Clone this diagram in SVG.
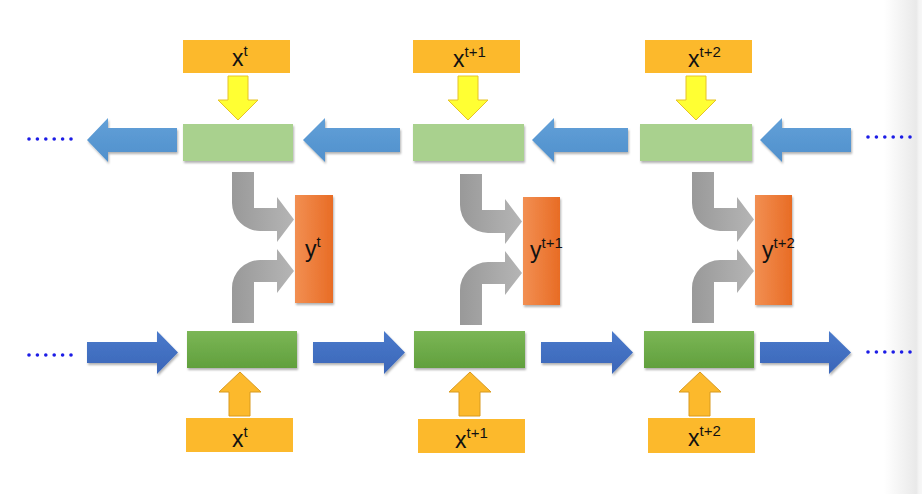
<svg xmlns="http://www.w3.org/2000/svg" width="922" height="494" viewBox="0 0 922 494">
<defs>
<style>
.xbox{fill:#FCB92C;}
.gtop{fill:#A9D18E;filter:url(#sh);}
.gbot{fill:url(#gGreen);filter:url(#sh);}
.ybox{fill:url(#gOrange);filter:url(#sh);}
.bl{fill:url(#gBlueL);filter:url(#sh);}
.br{fill:url(#gBlueR);filter:url(#sh);}
.yel{fill:#FFFF33;stroke:#E6C229;stroke-width:1;}
.org{fill:#FCB92C;stroke:#D99A1E;stroke-width:1;}
.gray{fill:url(#gGray);}
.dot{fill:#1C1CE6;}
.lbl{font-family:"Liberation Sans",Arial,sans-serif;font-size:23px;fill:#111;}
.sup{font-size:15px;}
</style>
<filter id="sh" x="-10%" y="-20%" width="130%" height="150%">
<feDropShadow dx="1" dy="2" stdDeviation="1.3" flood-color="#000" flood-opacity="0.3"/>
</filter>
<linearGradient id="gGreen" x1="0" y1="0" x2="0" y2="1">
<stop offset="0" stop-color="#7BB656"/><stop offset="1" stop-color="#61A03D"/>
</linearGradient>
<linearGradient id="gOrange" x1="0" y1="0" x2="1" y2="0">
<stop offset="0" stop-color="#F28F52"/><stop offset="1" stop-color="#E86C25"/>
</linearGradient>
<linearGradient id="gBlueL" x1="0" y1="0" x2="0" y2="1">
<stop offset="0" stop-color="#62A0D8"/><stop offset="1" stop-color="#5090CC"/>
</linearGradient>
<linearGradient id="gBlueR" x1="0" y1="0" x2="0" y2="1">
<stop offset="0" stop-color="#4A7ACB"/><stop offset="1" stop-color="#3B66B8"/>
</linearGradient>
<linearGradient id="gGray" x1="0" y1="0" x2="1" y2="0">
<stop offset="0" stop-color="#999"/><stop offset="1" stop-color="#B5B5B5"/>
</linearGradient>
<linearGradient id="gEdge" x1="0" y1="0" x2="1" y2="0">
<stop offset="0" stop-color="#FFF"/><stop offset="0.85" stop-color="#E9E9E9"/><stop offset="0.92" stop-color="#F4F4F4"/><stop offset="1" stop-color="#F6F6F6"/>
</linearGradient>
<g id="grayPair">
<path class="gray" d="M232,172 L254,172 L254,208 L277,208 L277,197 L294,219.5 L277,242 L277,231 L260,231 A28 28 0 0 1 232,203 Z"/>
<path class="gray" d="M232,323 L232,288 A28 28 0 0 1 260,260 L277,260 L277,249 L294,271 L277,293 L277,282 L254,282 L254,323 Z"/>
</g>
<g id="dots6">
<circle class="dot" cx="0" cy="0" r="1.8"/><circle class="dot" cx="8.4" cy="0" r="1.8"/><circle class="dot" cx="16.8" cy="0" r="1.8"/><circle class="dot" cx="25.2" cy="0" r="1.8"/><circle class="dot" cx="33.6" cy="0" r="1.8"/><circle class="dot" cx="42" cy="0" r="1.8"/>
</g>
</defs>
<rect width="922" height="494" fill="#FFF"/>
<rect x="884" y="0" width="38" height="494" fill="url(#gEdge)"/>

<g id="connectors">
<use href="#dots6" x="29" y="139"/>
<use href="#dots6" x="868" y="137"/>
<use href="#dots6" x="29" y="355"/>
<use href="#dots6" x="868" y="352"/>
<!-- top backward arrows -->
<path class="bl" d="M87,140 L108,118 L108,128 L177,128 L177,152 L108,152 L108,162 Z"/>
<path class="bl" d="M303,140 L325,118 L325,128 L400,128 L400,152 L325,152 L325,162 Z"/>
<path class="bl" d="M532,140 L554,118 L554,128 L628,128 L628,152 L554,152 L554,162 Z"/>
<path class="bl" d="M760,140 L782,118 L782,128 L851,128 L851,152 L782,152 L782,162 Z"/>
<!-- bottom forward arrows -->
<path class="br" d="M87,342 L157,342 L157,331 L178,352.5 L157,374 L157,363 L87,363 Z"/>
<path class="br" d="M313,342 L384,342 L384,331 L405,352.5 L384,374 L384,363 L313,363 Z"/>
<path class="br" d="M541,342 L612,342 L612,331 L633,352.5 L612,374 L612,363 L541,363 Z"/>
<path class="br" d="M760,342 L829,342 L829,331 L851,352.5 L829,374 L829,363 L760,363 Z"/>
<!-- yellow down arrows -->
<path class="yel" d="M228,76 L248,76 L248,100 L258,100 L238,120 L218,100 L228,100 Z"/>
<path class="yel" d="M458,76 L478,76 L478,100 L488,100 L468,120 L448,100 L458,100 Z"/>
<path class="yel" d="M686,76 L706,76 L706,100 L716,100 L696,120 L676,100 L686,100 Z"/>
<!-- orange up arrows -->
<path class="org" d="M229,416 L229,392 L219,392 L240,372 L261,392 L250,392 L250,416 Z"/>
<path class="org" d="M459,416 L459,392 L449,392 L470,372 L491,392 L480,392 L480,416 Z"/>
<path class="org" d="M689,416 L689,392 L679,392 L700,372 L721,392 L710,392 L710,416 Z"/>
<!-- gray output arrows -->
<use href="#grayPair"/>
<use href="#grayPair" x="228" y="2"/>
<use href="#grayPair" x="460" y="0"/>
</g>

<g id="col1">
<g id="xin-top-1"><rect class="xbox" x="183" y="40" width="107" height="33"/><text class="lbl" x="232" y="66">x<tspan class="sup" dy="-10">t</tspan></text></g>
<g id="hb-1"><rect class="gtop" x="183" y="124" width="110" height="37"/></g>
<g id="hf-1"><rect class="gbot" x="187" y="331" width="110" height="37"/></g>
<g id="xin-bot-1"><rect class="xbox" x="186" y="418" width="107" height="34"/><text class="lbl" x="232" y="447">x<tspan class="sup" dy="-10">t</tspan></text></g>
<g id="y-1"><rect class="ybox" x="295" y="195" width="38" height="108"/><text class="lbl" x="305" y="257">y<tspan class="sup" dy="-10">t</tspan></text></g>
</g>

<g id="col2">
<g id="xin-top-2"><rect class="xbox" x="413" y="40" width="107" height="33"/><text class="lbl" x="453" y="67">x<tspan class="sup" dy="-10">t+1</tspan></text></g>
<g id="hb-2"><rect class="gtop" x="413" y="124" width="111" height="37"/></g>
<g id="hf-2"><rect class="gbot" x="414" y="331" width="111" height="37"/></g>
<g id="xin-bot-2"><rect class="xbox" x="418" y="419" width="107" height="34"/><text class="lbl" x="455" y="448">x<tspan class="sup" dy="-10">t+1</tspan></text></g>
<g id="y-2"><rect class="ybox" x="523" y="197" width="37" height="108"/><text class="lbl" x="530" y="258">y<tspan class="sup" dy="-10">t+1</tspan></text></g>
</g>

<g id="col3">
<g id="xin-top-3"><rect class="xbox" x="645" y="40" width="107" height="33"/><text class="lbl" x="688" y="67">x<tspan class="sup" dy="-10">t+2</tspan></text></g>
<g id="hb-3"><rect class="gtop" x="640" y="124" width="112" height="37"/></g>
<g id="hf-3"><rect class="gbot" x="644" y="331" width="110" height="37"/></g>
<g id="xin-bot-3"><rect class="xbox" x="648" y="418" width="107" height="35"/><text class="lbl" x="688" y="446">x<tspan class="sup" dy="-10">t+2</tspan></text></g>
<g id="y-3"><rect class="ybox" x="755" y="195" width="37" height="110"/><text class="lbl" x="762" y="258">y<tspan class="sup" dy="-10">t+2</tspan></text></g>
</g>
</svg>
